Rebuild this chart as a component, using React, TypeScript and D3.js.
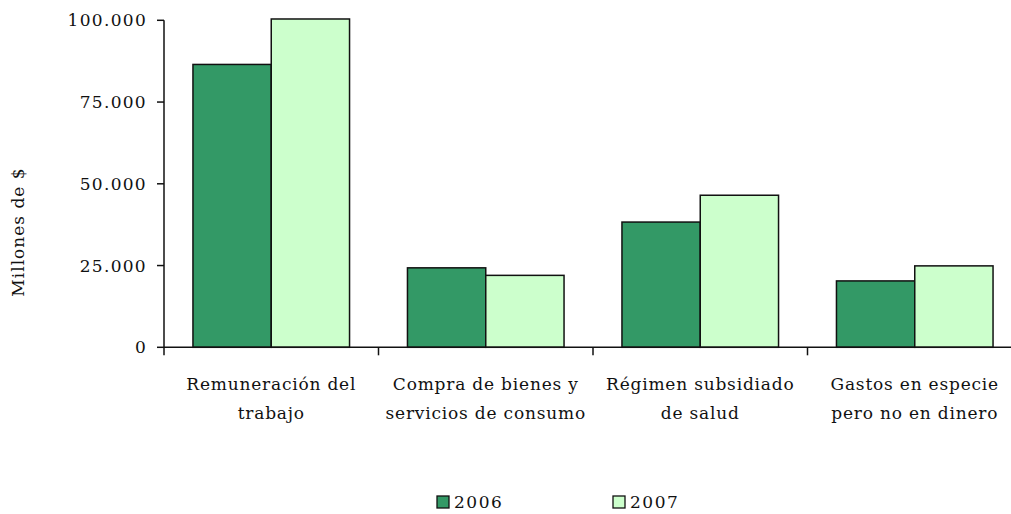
import React from "react";
import * as d3 from "d3";

const categories: string[][] = [
  ["Remuneración del", "trabajo"],
  ["Compra de bienes y", "servicios de consumo"],
  ["Régimen subsidiado", "de salud"],
  ["Gastos en especie", "pero no en dinero"],
];
const seriesNames = ["2006", "2007"];
const values2006 = [86500, 24300, 38300, 20300];
const values2007 = [100400, 22000, 46500, 24900];
const yTicks = [0, 25000, 50000, 75000, 100000];
const colors = ["#339966", "#CCFFCC"];

const W = 1011;
const H = 514;
const left = 164;
const right = 1022;
const top = 20.3;
const bottom = 347.3;
const font = "'DejaVu Serif', serif";

export default function App() {
  const x0 = d3
    .scaleBand<number>()
    .domain(d3.range(categories.length))
    .range([left, right])
    .paddingInner(0.27)
    .paddingOuter(0.135);
  const x1 = d3.scaleBand<number>().domain([0, 1]).range([0, x0.bandwidth()]);
  const y = d3.scaleLinear().domain([0, 100000]).range([bottom, top]);
  const step = (right - left) / categories.length;
  const fmt = (v: number) => d3.format(",")(v).replace(/,/g, ".");
  const series = [values2006, values2007];

  return (
    <svg
      width={W}
      height={H}
      style={{ position: "absolute", left: 0, top: 0, display: "block", background: "#fff" }}
    >
      {series.map((vals, s) =>
        vals.map((v, i) => (
          <rect
            key={`${s}-${i}`}
            x={(x0(i) as number) + (x1(s) as number)}
            y={y(v)}
            width={x1.bandwidth()}
            height={bottom - y(v)}
            fill={colors[s]}
            stroke="#111"
            strokeWidth={1.5}
          />
        ))
      )}
      {/* y axis */}
      <line x1={left} x2={left} y1={top} y2={bottom} stroke="#111" strokeWidth={1.5} />
      {yTicks.map((t) => (
        <g key={t}>
          <line x1={left - 7} x2={left} y1={y(t)} y2={y(t)} stroke="#111" strokeWidth={1.5} />
          <text
            x={left - 17}
            y={y(t)}
            dy="0.35em"
            textAnchor="end"
            fontFamily={font}
            fontSize={17}
            letterSpacing={1.3}
            fill="#111"
          >
            {fmt(t)}
          </text>
        </g>
      ))}
      {/* x axis */}
      <line x1={left} x2={right} y1={bottom} y2={bottom} stroke="#111" strokeWidth={1.5} />
      {d3.range(categories.length + 1).map((i) => (
        <line
          key={i}
          x1={left + i * step}
          x2={left + i * step}
          y1={bottom}
          y2={bottom + 8}
          stroke="#111"
          strokeWidth={1.5}
        />
      ))}
      {categories.map((lines, i) => (
        <text
          key={i}
          x={left + (i + 0.5) * step}
          textAnchor="middle"
          fontFamily={font}
          fontSize={17}
          letterSpacing={0.8}
          fill="#111"
        >
          {lines.map((l, j) => (
            <tspan key={j} x={left + (i + 0.5) * step} y={390 + j * 29}>
              {l}
            </tspan>
          ))}
        </text>
      ))}
      <text
        transform={`translate(24,232) rotate(-90)`}
        textAnchor="middle"
        fontFamily={font}
        fontSize={17}
        letterSpacing={1}
        fill="#111"
      >
        Millones de $
      </text>
      {/* legend */}
      {seriesNames.map((n, s) => (
        <g key={n} transform={`translate(${437 + s * 176},0)`}>
          <rect x={0} y={496} width={12} height={12} fill={colors[s]} stroke="#111" strokeWidth={1.3} />
          <text x={17} y={508} fontFamily={font} fontSize={17} letterSpacing={1.5} fill="#111">
            {n}
          </text>
        </g>
      ))}
    </svg>
  );
}
